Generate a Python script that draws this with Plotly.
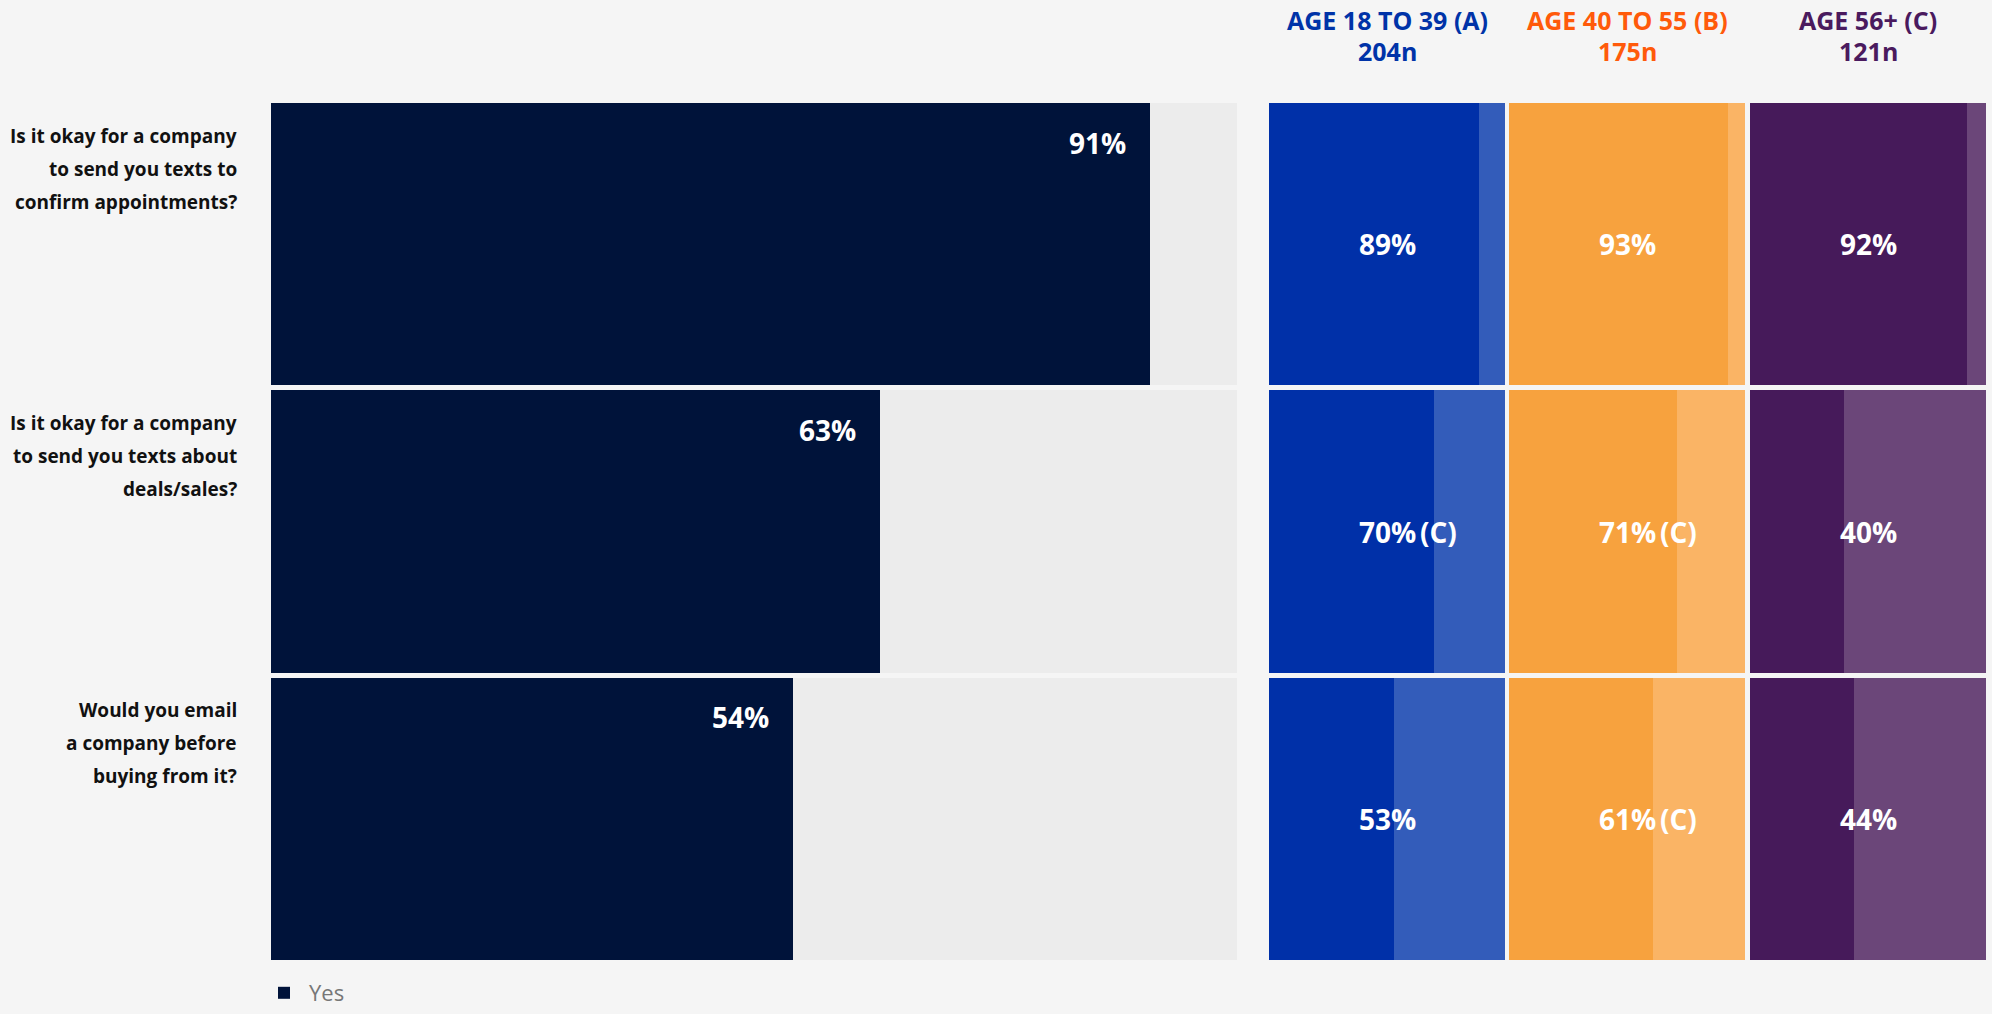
import plotly.graph_objects as go

# Survey questions (one list entry per printed line)
questions = [
    ["Is it okay for a company", "to send you texts to", "confirm appointments?"],
    ["Is it okay for a company", "to send you texts about", "deals/sales?"],
    ["Would you email", "a company before", "buying from it?"],
]
categories = [" ".join(q) for q in questions]

# Overall share answering "Yes" (%)
overall_yes = [91, 63, 54]

# Age-group breakdown
group_titles = ["AGE 18 TO 39 (A)", "AGE 40 TO 55 (B)", "AGE 56+ (C)"]
group_sizes = ["204n", "175n", "121n"]
age_a_yes = [89, 70, 53]
age_b_yes = [93, 71, 61]
age_c_yes = [92, 40, 44]
age_a_sig = ["", "(C)", ""]
age_b_sig = ["", "(C)", "(C)"]
age_c_sig = ["", "", ""]

W, H = 1992, 1014
BG = "#f5f5f5"
FONT = "Open Sans"

group_yes = [age_a_yes, age_b_yes, age_c_yes]
group_sig = [age_a_sig, age_b_sig, age_c_sig]
title_colors = ["#0033a8", "#ff5a0a", "#4a1a5e"]
dark_colors = ["#0030a8", "#f7a23e", "#461a5a"]
light_colors = ["#335cba", "#fab465", "#6b4679"]

# horizontal extents of each panel (px)
main_dom = (271, 1237)
group_doms = [(1269, 1505), (1509, 1745), (1750, 1986)]

fig = go.Figure()

fig.add_trace(go.Bar(
    y=categories, x=overall_yes, orientation="h", name="Yes",
    marker=dict(color="#00133a", line=dict(width=0)),
    xaxis="x", yaxis="y", showlegend=True, hoverinfo="skip",
))
fig.add_trace(go.Bar(
    y=categories, x=[100 - v for v in overall_yes], orientation="h", name="No",
    marker=dict(color="#ececec", line=dict(width=0)),
    xaxis="x", yaxis="y", showlegend=False, hoverinfo="skip",
))

for g in range(3):
    ax = f"x{g + 2}"
    fig.add_trace(go.Bar(
        y=categories, x=group_yes[g], orientation="h",
        marker=dict(color=dark_colors[g], line=dict(width=0)),
        xaxis=ax, yaxis="y", showlegend=False, hoverinfo="skip",
    ))
    fig.add_trace(go.Bar(
        y=categories, x=[100 - v for v in group_yes[g]], orientation="h",
        marker=dict(color=light_colors[g], line=dict(width=0)),
        xaxis=ax, yaxis="y", showlegend=False, hoverinfo="skip",
    ))

annotations = []

# question labels, right-aligned left of the main panel
for i, lines in enumerate(questions):
    for k, line in enumerate(lines):
        annotations.append(dict(
            text=line, xref="x domain", x=0, xanchor="right", xshift=-32,
            yref="y", y=i - 0.5, yanchor="middle", yshift=-(35 + 33 * k),
            showarrow=False,
            font=dict(family=FONT, size=19, color="#111111", weight=700),
        ))

# overall value labels inside the bar end
for i, v in enumerate(overall_yes):
    annotations.append(dict(
        text=f"{v}%", xref="x", x=v, xanchor="right", xshift=-22,
        yref="y", y=i - 0.5, yanchor="middle", yshift=-42,
        showarrow=False,
        font=dict(family=FONT, size=28, color="#ffffff", weight=700),
    ))

# group panels: value labels and headers
for g in range(3):
    xr = f"x{g + 2} domain"
    for i, v in enumerate(group_yes[g]):
        annotations.append(dict(
            text=f"{v}%", xref=xr, x=0.5, xanchor="center",
            yref="y", y=i, yanchor="middle",
            showarrow=False,
            font=dict(family=FONT, size=28, color="#ffffff", weight=700),
        ))
        if group_sig[g][i]:
            annotations.append(dict(
                text=group_sig[g][i], xref=xr, x=0.5, xanchor="left", xshift=31,
                yref="y", y=i, yanchor="middle",
                showarrow=False,
                font=dict(family=FONT, size=28, color="#ffffff", weight=700),
            ))
    annotations.append(dict(
        text=group_titles[g], xref=xr, x=0.5, xanchor="center",
        yref="paper", y=1 - 20 / H, yanchor="middle",
        showarrow=False,
        font=dict(family=FONT, size=25, color=title_colors[g], weight=700),
    ))
    annotations.append(dict(
        text=group_sizes[g], xref=xr, x=0.5, xanchor="center",
        yref="paper", y=1 - 51 / H, yanchor="middle",
        showarrow=False,
        font=dict(family=FONT, size=25, color=title_colors[g], weight=700),
    ))

plot_top, plot_bottom = 100.6, 962.4
ydom = [1 - plot_bottom / H, 1 - plot_top / H]

layout = dict(
    width=W, height=H,
    margin=dict(l=0, r=0, t=0, b=0),
    paper_bgcolor=BG, plot_bgcolor="rgba(0,0,0,0)",
    barmode="stack", bargap=0.017,
    font=dict(family=FONT),
    annotations=annotations,
    showlegend=True,
    legend=dict(
        x=259 / W, xanchor="left", y=0, yanchor="bottom",
        orientation="h", bgcolor="rgba(0,0,0,0)", itemwidth=40,
        font=dict(family=FONT, size=22, color="#777777"),
    ),
    yaxis=dict(
        type="category", categoryarray=categories, range=[2.5, -0.5],
        domain=ydom, showticklabels=False, showgrid=False, zeroline=False,
        fixedrange=True, anchor="x",
    ),
)

axis_common = dict(range=[0, 100], showticklabels=False, showgrid=False,
                   zeroline=False, fixedrange=True, anchor="y")
layout["xaxis"] = dict(domain=[main_dom[0] / W, main_dom[1] / W], **axis_common)
for g in range(3):
    layout[f"xaxis{g + 2}"] = dict(
        domain=[group_doms[g][0] / W, group_doms[g][1] / W], **axis_common)

fig.update_layout(**layout)
fig.write_html("out.html", config={"displayModeBar": False})
